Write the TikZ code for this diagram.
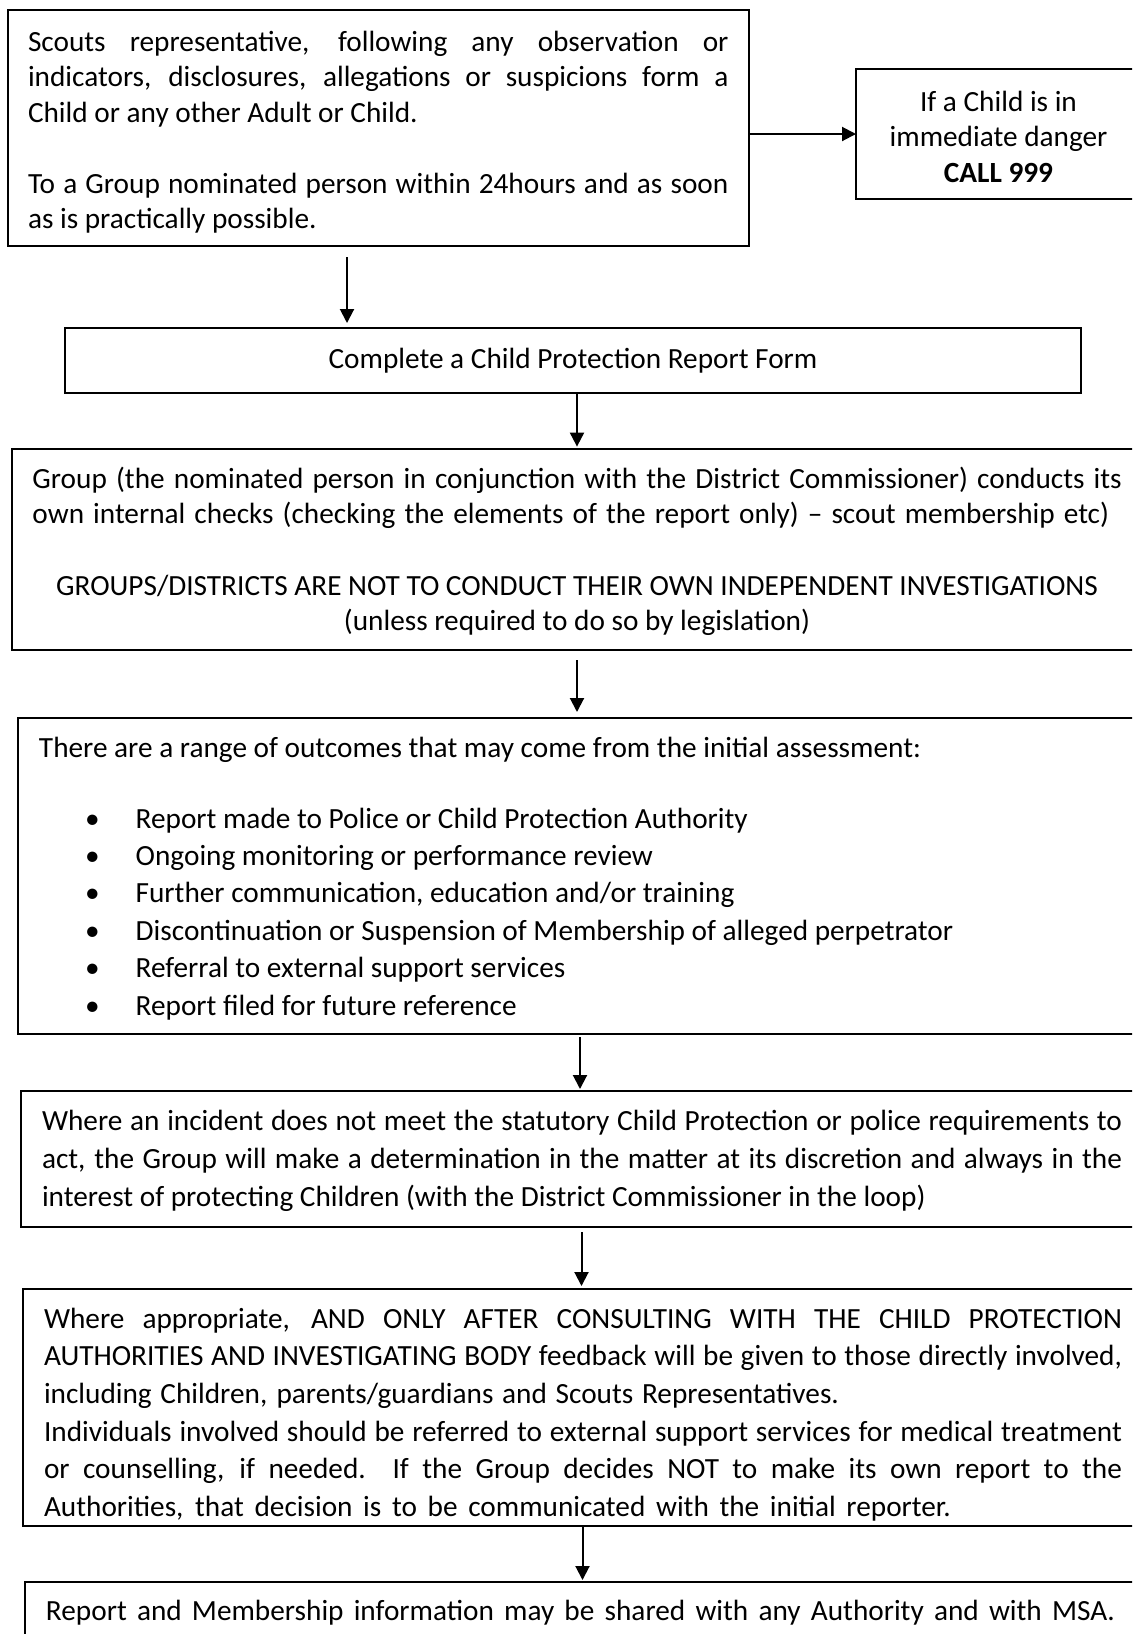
\documentclass[tikz,border=0pt]{standalone}
\usepackage{fontspec}
\usepackage{graphicx}
\setmainfont{Carlito}
\usetikzlibrary{arrows.meta,calc}

% a line set to an exact width: spaces stretch, or the line is squeezed if too long
\newsavebox\jlinebox
\newcommand\jline[2]{\sbox\jlinebox{#2}%
  \ifdim\wd\jlinebox>#1\relax\resizebox{#1}{\height}{\usebox\jlinebox}%
  \else\makebox[#1][s]{#2}\fi}
% keep the font's own interword glue inside aligned nodes
\newcommand\fontspaces{\spaceskip=0pt\relax\xspaceskip=0pt\relax}

\begin{document}
\begin{tikzpicture}[x=0.5pt,y=-0.5pt,
  box/.style={draw=black, line width=0.8pt, inner sep=0pt, outer sep=0pt},
  txt/.style={inner sep=0pt, outer sep=0pt, font=\fontsize{14.64pt}{17.75pt}\selectfont,
              execute at begin node=\fontspaces},
  flow/.style={line width=1pt, -{Triangle[length=7pt,width=7pt]}},
]
\useasboundingbox (0,0) rectangle (1132,1634);
\clip (0,0) rectangle (1132,1634);

% ---- boxes ----
\node[box, minimum width=370.5pt, minimum height=118pt] (report) at (378.5,128) {};
\node[box, minimum width=142.5pt, minimum height=65pt] (danger) at (998.5,134) {};
\node[box, minimum width=508pt, minimum height=32.5pt] (form) at (573,360.5) {};
\node[box, minimum width=565pt, minimum height=100.5pt] (checks) at (577,549.5) {};
\node[box, minimum width=562pt, minimum height=158pt] (outcomes) at (580,876) {};
\node[box, minimum width=560.5pt, minimum height=68pt] (determine) at (581.5,1159) {};
\node[box, minimum width=559.5pt, minimum height=118.5pt] (feedback) at (582.5,1407.5) {};
\node[box, minimum width=558.5pt, minimum height=39pt] (share) at (583.5,1621) {};

% ---- texts ----
\node[txt, anchor=base west, text width=351pt, align=flush left] (reporttext) at (28,51)
  {\jline{350.25pt}{Scouts representative, following any observation or}\\
   \jline{350.25pt}{indicators, disclosures, allegations or suspicions form a}\\
   Child or any other Adult or Child.\\[17.75pt]
   \jline{350.25pt}{To a Group nominated person within 24hours and as soon}\\
   as is practically possible.};

\node[txt, anchor=base, text width=140pt, align=flush center] (dangertext) at (998.5,111)
  {If a Child is in\\ immediate danger\\ \textbf{CALL 999}};

\node[txt, anchor=base] (formtext) at (573,368) {Complete a Child Protection Report Form};

\node[txt, anchor=base west, text width=546pt, align=flush left] (checkstext) at (32.5,488)
  {\jline{544.75pt}{Group (the nominated person in conjunction with the District Commissioner) conducts its}\\
   \jline{538.25pt}{own internal checks (checking the elements of the report only) – scout membership etc)}};
\node[txt, anchor=base, text width=556pt, align=flush center] (checksnote) at (577,595)
  {GROUPS/DISTRICTS ARE NOT TO CONDUCT THEIR OWN INDEPENDENT INVESTIGATIONS\\
   (unless required to do so by legislation)};

\node[txt, anchor=base west] (outintro) at (39,757)
  {There are a range of outcomes that may come from the initial assessment:};
\node[txt, anchor=base west, text width=500pt, align=flush left, font=\fontsize{14.64pt}{18.7pt}\selectfont] (outlist) at (85.2,828)
  {\makebox[25.25pt][l]{\makebox[7.2pt]{\textbullet}}Report made to Police or Child Protection Authority\\
   \makebox[25.25pt][l]{\makebox[7.2pt]{\textbullet}}Ongoing monitoring or performance review\\
   \makebox[25.25pt][l]{\makebox[7.2pt]{\textbullet}}Further communication, education and/or training\\
   \makebox[25.25pt][l]{\makebox[7.2pt]{\textbullet}}Discontinuation or Suspension of Membership of alleged perpetrator\\
   \makebox[25.25pt][l]{\makebox[7.2pt]{\textbullet}}Referral to external support services\\
   \makebox[25.25pt][l]{\makebox[7.2pt]{\textbullet}}Report filed for future reference};

\node[txt, anchor=base west, text width=541pt, align=flush left, font=\fontsize{14.64pt}{19.15pt}\selectfont] (determinetext) at (42,1130)
  {\jline{540pt}{Where an incident does not meet the statutory Child Protection or police requirements to}\\
   \jline{540pt}{act, the Group will make a determination in the matter at its discretion and always in the}\\
   interest of protecting Children (with the District Commissioner in the loop)};

\node[txt, anchor=base west, text width=540pt, align=flush left, font=\fontsize{14.64pt}{18.85pt}\selectfont] (feedbacktext) at (44,1328)
  {\jline{539pt}{Where appropriate, AND ONLY AFTER CONSULTING WITH THE CHILD PROTECTION}\\
   \jline{539pt}{AUTHORITIES AND INVESTIGATING BODY feedback will be given to those directly involved,}\\
   \jline{397.5pt}{including Children, parents/guardians and Scouts Representatives.}\\
   \jline{539pt}{Individuals involved should be referred to external support services for medical treatment}\\
   \jline{539pt}{or counselling, if needed.\ \ If the Group decides NOT to make its own report to the}\\
   \jline{453.4pt}{Authorities, that decision is to be communicated with the initial reporter.}};

\node[txt, anchor=base west] (sharetext) at (46,1620)
  {\jline{534.5pt}{Report and Membership information may be shared with any Authority and with MSA.}};

% ---- connectors ----
\coordinate (drop) at ($(report.south west)!0.4575!(report.south east)$);
\draw[flow] (report.east |- danger.west) -- (danger.west);
\draw[flow, shorten <=5.5pt, shorten >=2.5pt] (drop) -- (drop |- form.north);
\draw[flow, shorten >=1.2pt] (checks.north |- form.south) -- (checks.north);
\draw[flow, shorten <=5pt, shorten >=3pt] (checks.south) -- (checks.south |- outcomes.north);
\draw[flow, shorten <=1.5pt, shorten >=1pt] (outcomes.south) -- (outcomes.south |- determine.north);
\draw[flow, shorten <=2.5pt, shorten >=1.5pt] (determine.south) -- (determine.south |- feedback.north);
\draw[flow, shorten >=1pt] (feedback.south) -- (feedback.south |- share.north);
\end{tikzpicture}
\end{document}
